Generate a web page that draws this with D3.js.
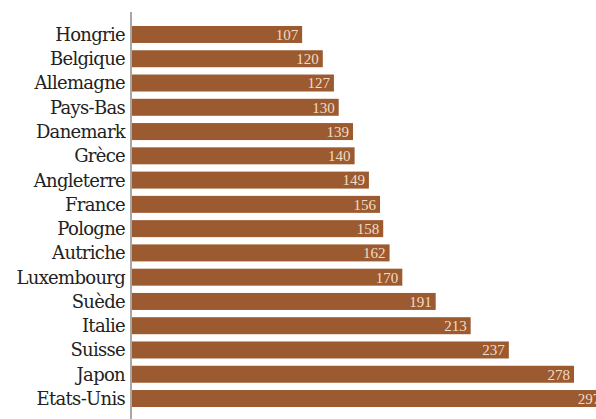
<!DOCTYPE html>
<html><head><meta charset="utf-8">
<script src="https://cdn.jsdelivr.net/npm/d3@7"></script>
<style>body{margin:0;background:#fff}svg{display:block}</style>
</head><body>
<script>
const countries = ["Hongrie","Belgique","Allemagne","Pays-Bas","Danemark","Grèce","Angleterre","France","Pologne","Autriche","Luxembourg","Suède","Italie","Suisse","Japon","Etats-Unis"];
const values = [107,120,127,130,139,140,149,156,158,162,170,191,213,237,278,297];

const W = 596, H = 419;
const svg = d3.select("body").append("svg").attr("width", W).attr("height", H);

const x = d3.scaleLinear().domain([0, 300]).range([132, 609]);
const y = d3.scaleBand().domain(countries).range([18.7, 414.3]).paddingInner(0.3).paddingOuter(0.3);

svg.selectAll("rect.bar").data(countries).join("rect")
  .attr("class","bar")
  .attr("x", x(0))
  .attr("y", d => y(d))
  .attr("width", (d,i) => x(values[i]) - x(0))
  .attr("height", y.bandwidth())
  .attr("fill", "#9b5a2f");

svg.selectAll("text.val").data(countries).join("text")
  .attr("class","val")
  .attr("x", (d,i) => x(values[i]) - 4)
  .attr("y", d => y(d) + y.bandwidth()/2)
  .attr("dy", "0.36em")
  .attr("text-anchor","end")
  .attr("font-family","'Liberation Serif', serif")
  .attr("font-size", 15)
  .attr("fill","#f4dcc2")
  .text((d,i) => values[i]);

svg.selectAll("text.lab").data(countries).join("text")
  .attr("class","lab")
  .attr("x", 125)
  .attr("y", d => y(d) + y.bandwidth()/2)
  .attr("dy", "0.36em")
  .attr("text-anchor","end")
  .attr("font-family","'DejaVu Serif', serif")
  .attr("font-size", 18)
  .attr("letter-spacing", -0.7)
  .attr("fill","#222")
  .text(d => d);

svg.append("line")
  .attr("x1", 131).attr("x2", 131)
  .attr("y1", 12).attr("y2", H)
  .attr("stroke", "#8a8a8a").attr("stroke-width", 1.5);
</script>
</body></html>
